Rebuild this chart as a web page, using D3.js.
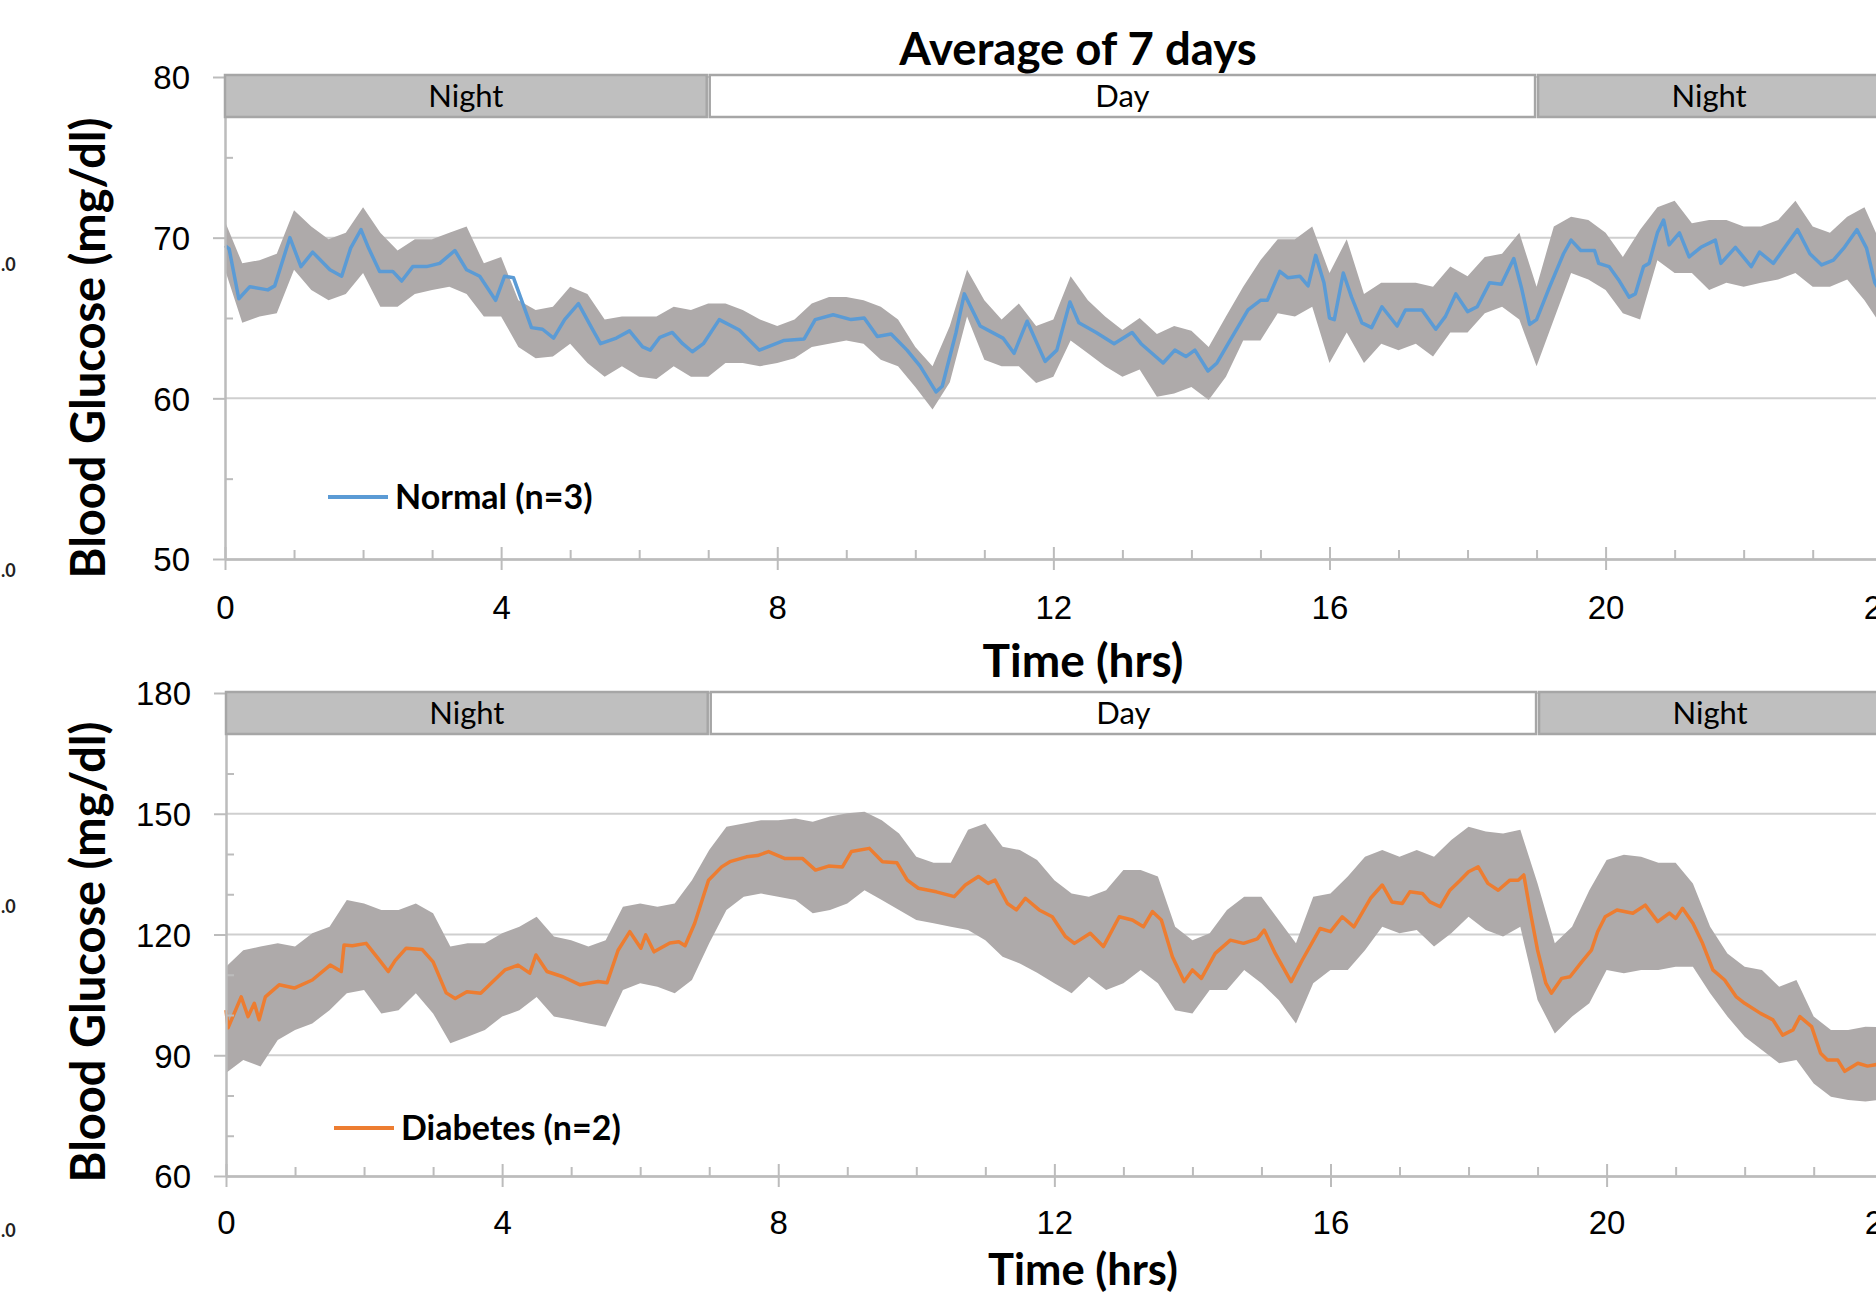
<!DOCTYPE html>
<html><head><meta charset="utf-8">
<script src="https://cdn.jsdelivr.net/npm/d3@7"></script>
<style>
html,body{margin:0;padding:0;background:#fff;}
svg{display:block;font-family:Lato,"Open Sans",sans-serif;}
</style></head><body>
<svg id="chart" width="1876" height="1295"></svg>
<script>
// ---------------- DATA ----------------
const chartTitle = "Average of 7 days";
const hourTicks = [0,4,8,12,16,20,24];
const hourMinor = [1,2,3,5,6,7,9,10,11,13,14,15,17,18,19,21,22,23];
const normalYTicks = [50,60,70,80];
const normalYMinor = [55,65,75];
const diabYTicks = [60,90,120,150,180];
const diabYMinor = [70,80,100,110,130,140,160,170];
const periodLabels = ["Night","Day","Night"];
const periodStart = [0,7,19];
const periodEnd = [7,19,24];

// Normal (n=3): mean curve (hours, mg/dl)
const normalT = [0,0.06,0.2,0.36,0.62,0.72,0.94,1.1,1.27,1.52,1.69,1.82,1.97,2.08,2.24,2.43,2.56,2.72,2.92,3.11,3.33,3.5,3.69,3.92,4.05,4.18,4.44,4.6,4.76,4.92,5.12,5.31,5.44,5.67,5.86,6.05,6.16,6.3,6.48,6.63,6.77,6.93,7.16,7.45,7.74,8.1,8.39,8.55,8.81,9.07,9.26,9.45,9.65,9.88,10.07,10.3,10.39,10.59,10.71,10.94,11.27,11.43,11.62,11.88,12.05,12.24,12.37,12.62,12.88,13.14,13.27,13.59,13.76,13.92,14.05,14.24,14.37,14.56,14.82,15.0,15.1,15.28,15.4,15.57,15.69,15.8,15.92,16.0,16.07,16.2,16.32,16.47,16.61,16.76,16.98,17.1,17.34,17.54,17.68,17.83,18.0,18.14,18.32,18.49,18.67,18.78,18.9,19.0,19.19,19.39,19.5,19.64,19.84,19.9,20.05,20.2,20.34,20.43,20.55,20.63,20.75,20.84,20.92,21.07,21.21,21.38,21.59,21.67,21.88,22.11,22.23,22.43,22.63,22.78,22.96,23.13,23.3,23.46,23.64,23.78,23.9,24.0];
const normalV = [69.5,69.3,66.2,66.95,66.75,67.0,70.0,68.2,69.1,68.0,67.6,69.35,70.5,69.35,67.9,67.9,67.3,68.2,68.2,68.4,69.2,68.0,67.6,66.1,67.6,67.5,64.4,64.3,63.75,64.9,65.9,64.4,63.4,63.75,64.2,63.2,63.0,63.8,64.1,63.4,62.9,63.4,64.9,64.25,63.0,63.6,63.7,64.9,65.2,64.9,65.0,63.85,64.0,63.0,62.0,60.4,60.75,64.1,66.5,64.5,63.75,62.8,64.8,62.3,63.0,66.0,64.7,64.1,63.4,64.1,63.4,62.2,63.0,62.6,63.0,61.7,62.2,63.6,65.5,66.1,66.1,67.9,67.5,67.6,67.0,68.9,67.2,65.0,64.9,67.8,66.3,64.7,64.4,65.7,64.5,65.5,65.5,64.3,65.1,66.5,65.4,65.7,67.2,67.1,68.7,66.9,64.6,64.9,66.95,69.0,69.85,69.2,69.2,68.4,68.2,67.3,66.3,66.5,68.2,68.4,70.3,71.1,69.55,70.3,68.8,69.4,69.85,68.4,69.4,68.2,69.1,68.4,69.6,70.5,69.0,68.3,68.6,69.4,70.5,69.35,67.2,66.5];

// shared quarter-hour grid for the grey variability bands
const bandHours = [0,0.25,0.5,0.75,1,1.25,1.5,1.75,2,2.25,2.5,2.75,3,3.25,3.5,3.75,4,4.25,4.5,4.75,5,5.25,5.5,5.75,6,6.25,6.5,6.75,7,7.25,7.5,7.75,8,8.25,8.5,8.75,9,9.25,9.5,9.75,10,10.25,10.5,10.75,11,11.25,11.5,11.75,12,12.25,12.5,12.75,13,13.25,13.5,13.75,14,14.25,14.5,14.75,15,15.25,15.5,15.75,16,16.25,16.5,16.75,17,17.25,17.5,17.75,18,18.25,18.5,18.75,19,19.25,19.5,19.75,20,20.25,20.5,20.75,21,21.25,21.5,21.75,22,22.25,22.5,22.75,23,23.25,23.5,23.75,24];
const normalUpper = [71.0,68.4,68.6,69.0,71.7,70.7,69.9,70.3,71.9,70.3,69.2,69.9,69.9,70.3,70.7,68.4,68.8,66.1,65.5,65.7,66.95,66.5,64.9,65.1,65.1,65.1,65.7,65.5,65.9,65.9,65.5,64.9,64.5,64.9,65.9,66.3,66.3,66.1,65.7,64.9,63.2,62.0,64.5,68.0,66.1,64.9,65.9,64.5,64.9,67.6,66.1,65.1,64.25,65.0,64.0,64.5,64.2,63.2,65.1,66.95,68.6,69.9,69.9,70.7,67.8,69.9,66.5,67.2,67.2,67.2,66.95,68.2,67.6,68.8,69.0,70.3,66.95,70.7,71.3,71.1,70.3,68.8,70.5,71.9,72.3,70.9,71.1,71.1,70.7,70.7,71.1,72.3,70.7,70.3,71.3,71.9,69.5];
const normalLower = [68.0,64.7,65.1,65.3,68.0,66.75,66.1,66.5,67.8,65.7,65.7,66.5,66.75,66.95,66.5,65.1,65.1,63.2,62.5,62.6,63.4,62.2,61.35,62.0,61.35,61.2,62.0,61.35,61.35,62.2,62.2,62.0,62.2,62.5,63.2,63.4,63.6,63.4,62.4,62.0,60.7,59.3,61.0,65.1,62.4,62.0,62.0,60.95,61.35,63.6,62.8,62.0,61.35,61.8,60.1,60.3,60.7,59.9,61.35,63.6,63.6,65.3,65.1,65.7,62.2,64.1,62.2,63.4,63.0,63.4,62.6,64.1,64.1,65.3,65.7,64.9,62.0,64.9,67.8,67.4,66.75,65.3,64.9,68.6,67.8,67.8,66.75,67.2,66.95,67.2,67.4,67.8,66.95,66.95,67.4,66.1,64.5];

// Diabetes (n=2): mean curve
const diabT = [0,0.03,0.22,0.32,0.41,0.48,0.57,0.77,0.99,1.25,1.51,1.67,1.71,1.83,2.03,2.22,2.35,2.45,2.61,2.84,3.0,3.19,3.32,3.49,3.69,3.84,4.04,4.23,4.4,4.49,4.65,4.88,5.13,5.39,5.52,5.68,5.85,6.01,6.08,6.2,6.43,6.56,6.65,6.79,6.99,7.18,7.3,7.54,7.7,7.86,8.09,8.35,8.54,8.73,8.93,9.06,9.32,9.51,9.72,9.87,10.03,10.29,10.55,10.71,10.9,11.04,11.14,11.32,11.45,11.58,11.78,11.97,12.16,12.29,12.52,12.71,12.94,13.13,13.29,13.42,13.55,13.71,13.88,14.0,14.13,14.33,14.55,14.74,14.94,15.04,15.2,15.43,15.59,15.85,16.0,16.17,16.34,16.58,16.75,16.89,17.04,17.15,17.33,17.44,17.59,17.73,17.88,18.0,18.14,18.28,18.43,18.6,18.72,18.8,18.89,19.0,19.12,19.2,19.35,19.47,19.64,19.78,19.87,19.98,20.15,20.38,20.56,20.74,20.91,21.0,21.1,21.25,21.39,21.54,21.71,21.88,22.0,22.23,22.41,22.55,22.7,22.8,22.97,23.1,23.2,23.35,23.45,23.64,23.78,23.91,24.0];
const diabV = [101.2,96.8,104.5,99.6,102.9,98.8,104.5,107.5,106.7,108.7,112.4,110.8,117.4,117.2,117.8,113.7,110.8,113.5,116.6,116.3,113.2,105.5,104.1,105.8,105.4,107.9,111.2,112.4,110.4,114.9,110.8,109.5,107.5,108.3,108.0,116.1,120.7,116.6,119.9,115.7,117.9,118.2,117.2,122.8,133.5,136.8,138.1,139.3,139.6,140.6,138.9,138.9,136.0,137.0,136.8,140.6,141.4,138.1,137.8,133.5,131.5,130.6,129.4,132.3,134.4,132.7,133.5,127.7,126.1,129.0,126.1,124.4,119.5,117.8,120.3,117.0,124.4,123.6,121.9,125.7,123.6,114.5,108.3,111.2,109.1,115.3,118.6,117.8,118.9,121.1,115.3,108.3,113.6,121.5,120.7,124.4,121.9,129.0,132.3,128.1,127.7,130.6,130.2,128.1,126.9,131.0,133.5,135.6,136.8,132.7,131.0,133.5,133.5,134.8,126.1,116.1,107.9,105.4,109.1,109.5,113.2,116.1,120.7,124.4,126.1,125.3,127.3,123.2,125.3,124.0,126.5,122.8,117.8,111.2,108.7,104.5,102.9,100.4,98.8,95.0,96.3,99.6,97.1,90.5,88.8,88.8,86.0,88.0,87.3,87.7,88.0];
const diabUpper = [112.0,116.1,117.0,117.8,117.0,120.3,121.9,128.6,127.7,126.1,126.1,127.7,125.3,117.0,117.8,117.8,120.3,121.9,124.4,119.5,118.6,117.0,118.6,126.9,127.7,126.9,127.7,133.5,141.0,146.8,147.6,148.4,148.4,148.8,148.0,149.3,150.1,150.5,148.4,145.1,139.3,137.8,137.8,146.0,147.6,141.8,141.0,138.5,133.5,130.2,129.4,131.0,136.0,136.0,134.4,121.9,118.6,120.3,126.1,129.4,129.4,123.6,117.8,129.4,130.2,134.4,139.3,141.0,139.3,141.0,139.3,143.5,146.8,145.6,145.1,146.0,132.7,117.8,121.9,131.0,138.5,139.8,139.3,137.8,137.8,132.7,121.9,115.3,112.0,111.2,107.0,108.7,99.6,96.3,96.3,97.1,97.0];
const diabLower = [85.6,88.8,87.2,93.8,96.3,97.9,101.2,105.4,106.2,100.4,101.2,105.4,100.4,93.0,94.6,96.3,99.6,101.2,104.5,99.6,98.8,97.9,97.1,106.2,107.9,107.0,105.4,108.7,117.8,126.1,129.4,130.2,129.4,128.6,125.3,126.1,127.7,131.0,128.6,126.1,123.6,122.8,121.9,121.1,118.6,114.5,112.8,110.5,107.9,105.4,109.5,106.2,107.9,111.2,107.9,101.2,100.4,106.2,106.2,111.2,107.9,103.7,97.9,107.9,111.2,111.2,116.1,121.9,120.3,121.1,117.0,120.3,124.4,121.1,119.5,121.9,103.7,95.4,99.6,102.9,111.2,110.4,111.2,111.2,112.0,112.0,105.4,99.6,94.6,91.3,88.0,88.8,83.0,79.7,78.9,78.5,79.0];

// ---------------- DRAW ----------------
const svg = d3.select("#chart");
const COL = {axis:"#bcbcbc", grid:"#cfcfcf", band:"#aeaaaa", night:"#bfbfbf", pbStroke:"#a6a6a6"};

const panels = [
  {x0:225, yDom:[50,80], yRange:[559,77], yTicks:normalYTicks, yMinor:normalYMinor,
   t:normalT, v:normalV, up:normalUpper, lo:normalLower, color:"#5b9bd5",
   legend:"Normal (n=3)", legX:328, legY:497, xTitleY:677, xTitleSize:46, tickPad:49, yTitleY:348, pbTop:75},
  {x0:226, yDom:[60,180], yRange:[1176,693], yTicks:diabYTicks, yMinor:diabYMinor,
   t:diabT, v:diabV, up:diabUpper, lo:diabLower, color:"#ed7d31",
   legend:"Diabetes (n=2)", legX:334, legY:1128, xTitleY:1285, xTitleSize:43.5, tickPad:47, yTitleY:952, pbTop:692}
];

panels.forEach(p => {
  const x = d3.scaleLinear().domain([0,24]).range([p.x0, p.x0 + 24*69.03]);
  const y = d3.scaleLinear().domain(p.yDom).range(p.yRange);
  const g = svg.append("g");

  // gridlines
  g.append("g").selectAll("line").data(p.yTicks.slice(1)).join("line")
    .attr("x1", x(0)).attr("x2", x(24)).attr("y1", d=>y(d)).attr("y2", d=>y(d))
    .attr("stroke", COL.grid).attr("stroke-width", 2);

  // variability band
  const area = d3.area().x((d,i)=>x(bandHours[i])).y0((d,i)=>y(p.lo[i])).y1((d,i)=>y(p.up[i]));
  g.append("path").datum(bandHours).attr("d", area).attr("fill", COL.band);

  // mean line
  const line = d3.line().x((d,i)=>x(p.t[i])).y(d=>y(d));
  g.append("path").datum(p.v).attr("d", line).attr("fill","none")
    .attr("stroke", p.color).attr("stroke-width", 3.5).attr("stroke-linejoin","round");

  // axes
  const styleAxis = sel => { sel.selectAll("path,line").attr("stroke", COL.axis).attr("stroke-width", 2);
    sel.selectAll("text").attr("fill","#000").attr("font-size", 33); };
  const yb = y(p.yDom[0]);
  g.append("g").attr("transform",`translate(0,${yb})`)
    .call(d3.axisBottom(x).tickValues(hourMinor).tickSize(-9).tickSizeOuter(0).tickFormat(""))
    .call(styleAxis);
  g.append("g").attr("transform",`translate(0,${yb})`)
    .call(d3.axisBottom(x).tickValues(hourTicks).tickSize(-12).tickSizeOuter(0).tickFormat(""))
    .call(styleAxis);
  g.append("g").attr("transform",`translate(0,${yb})`)
    .call(d3.axisBottom(x).tickValues(hourTicks).tickSize(11).tickSizeOuter(0).tickPadding(p.tickPad).tickFormat(d3.format("d")))
    .call(styleAxis)
    .call(s=>s.selectAll("text").attr("dy","0"));
  g.append("g").attr("transform",`translate(${x(0)},0)`)
    .call(d3.axisLeft(y).tickValues(p.yMinor).tickSize(-8).tickSizeOuter(0).tickFormat(""))
    .call(styleAxis);
  g.append("g").attr("transform",`translate(${x(0)},0)`)
    .call(d3.axisLeft(y).tickValues(p.yTicks).tickSize(12).tickSizeOuter(0).tickPadding(23).tickFormat(d3.format("d")))
    .call(styleAxis)
    .call(s=>s.selectAll("text").attr("dy","0.36em"));

  // day/night strip
  const strip = g.append("g");
  periodLabels.forEach((lab,i) => {
    const xa = x(periodStart[i]) + (i>0 ? 1.5 : 0);
    const xb = x(periodEnd[i]) - 1.5;
    strip.append("rect").attr("x", xa).attr("y", p.pbTop).attr("width", xb-xa).attr("height", 42)
      .attr("fill", lab==="Night" ? COL.night : "#fff").attr("stroke", COL.pbStroke).attr("stroke-width", 2.5);
    strip.append("text").attr("x", (xa+xb)/2).attr("y", p.pbTop+32).attr("text-anchor","middle")
      .attr("font-size", 31).attr("fill","#000").text(lab);
  });

  // legend
  g.append("line").attr("x1", p.legX).attr("x2", p.legX+60).attr("y1", p.legY).attr("y2", p.legY)
    .attr("stroke", p.color).attr("stroke-width", 4);
  g.append("text").attr("x", p.legX+67).attr("y", p.legY+12).attr("font-size", 34)
    .attr("font-weight","bold").attr("fill","#000").text(p.legend);

  // axis titles
  g.append("text").attr("x", 1083).attr("y", p.xTitleY).attr("text-anchor","middle")
    .attr("font-size", p.xTitleSize).attr("font-weight","bold").attr("fill","#000").text("Time (hrs)");
  g.append("text").attr("transform", `translate(105,${p.yTitleY}) rotate(-90)`).attr("text-anchor","middle")
    .attr("font-size", 47).attr("font-weight","bold").attr("fill","#000").text("Blood Glucose (mg/dl)");
});

// chart title
svg.append("text").attr("x", 1078).attr("y", 65).attr("text-anchor","middle")
  .attr("font-size", 45.5).attr("font-weight","bold").attr("fill","#000").text(chartTitle);

// remnants of a neighbouring panel's labels at the left edge
[271, 577, 913, 1237].forEach(yy => {
  svg.append("text").attr("x", 1).attr("y", yy)
    .attr("font-size", 18).attr("font-weight","bold").attr("fill","#222").text(".0");
});
</script>
</body></html>
